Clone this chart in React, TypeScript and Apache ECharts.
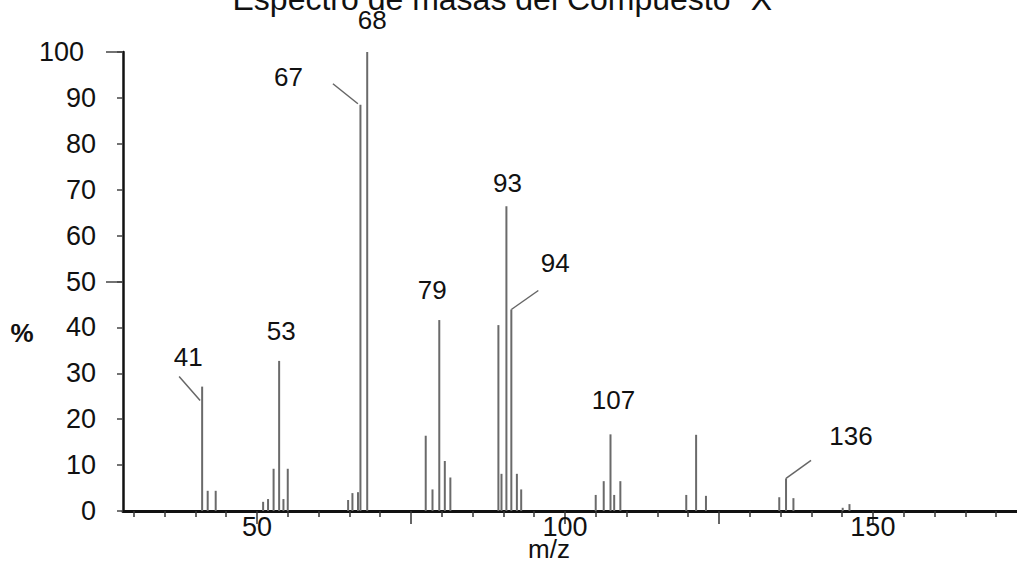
import React, { useEffect, useRef } from "react";
import * as echarts from "echarts";

// m/z positions (as read on the drawn axis) and relative intensities (%)
const peakMz = [
  41.1, 42.0, 43.3,
  51.0, 51.8, 52.7, 53.6, 54.3, 55.0,
  64.8, 65.5, 66.4, 66.8, 67.9,
  77.4, 78.5, 79.6, 80.5, 81.4,
  89.2, 89.7, 90.5, 91.3, 92.2, 92.9,
  105.0, 106.3, 107.4, 108.0, 109.0,
  119.7, 121.3, 122.9,
  134.8, 135.9, 137.1,
  145.1, 146.2,
];
const peakIntensity = [
  27.1, 4.4, 4.4,
  2.0, 2.6, 9.2, 32.7, 2.6, 9.2,
  2.4, 3.9, 4.1, 88.5, 100,
  16.4, 4.7, 41.6, 10.9, 7.3,
  40.5, 8.1, 66.4, 43.9, 8.1, 4.7,
  3.5, 6.5, 16.7, 3.5, 6.5,
  3.5, 16.6, 3.3,
  3.0, 7.1, 2.8,
  0.7, 1.5,
];

// annotated peaks
const annotText = ["41", "53", "67", "68", "79", "93", "94", "107", "136"];
const annotMz = [41.1, 53.6, 66.8, 67.9, 79.6, 90.5, 91.3, 107.4, 135.9];
const annotIntensity = [27.1, 32.7, 88.5, 100, 41.6, 66.4, 43.9, 16.7, 7.1];

const xMinorTicks = [30, 35, 40, 45, 55, 60, 65, 70, 80, 85, 90, 95, 105, 110, 115, 120, 130, 135, 140, 145, 155, 160, 165, 170];
const xMajorTicks = [50, 75, 100, 125, 150];
const xTickLabels = [50, 100, 150];
const yLongTicks = [50, 100];

const TITLE = 'Espectro de masas del Compuesto "X"';
const X_NAME = "m/z";
const Y_NAME = "%";

// styling: label offsets (px) from the peak top, leader lines (px)
const annotOffset: number[][] = [
  [-14, -30], [2, -30], [-72, -28], [5, -32], [-7, -30], [1, -23], [44, -46], [3, -34], [65, -42],
];
const annotLeader: (number[] | null)[] = [
  [-2, 14, -23, -10], null, [-2.5, -1, -27.5, -21], null, null, null, [0, 0, 27, -19], null, [0, 0, 25, -18],
];

const FONT = "'Liberation Sans', Arial, Helvetica, sans-serif";

export default function App() {
  const ref = useRef<HTMLDivElement>(null);
  useEffect(() => {
    if (!ref.current) return;
    const chart = echarts.init(ref.current, undefined, { renderer: "svg" });
    const xMin = 28.25;
    const xMax = 173.4;
    chart.setOption({
      animation: false,
      backgroundColor: "#ffffff",
      textStyle: { fontFamily: FONT },
      grid: { left: 123, right: 0, top: 52, bottom: 72, containLabel: false },
      graphic: [
        {
          type: "text",
          style: {
            text: TITLE,
            x: 508,
            y: -1,
            align: "center",
            verticalAlign: "middle",
            fontSize: 32,
            fontFamily: FONT,
            fill: "#111",
          },
        },
        {
          type: "text",
          style: { text: Y_NAME, x: 22, y: 333, align: "center", verticalAlign: "middle", fontSize: 26, fontFamily: FONT, fill: "#111", fontWeight: "bold" },
        },
        {
          type: "text",
          style: { text: X_NAME, x: 549, y: 549, align: "center", verticalAlign: "middle", fontSize: 26, fontFamily: FONT, fill: "#111" },
        },
      ],
      xAxis: [
        {
          type: "value",
          min: xMin,
          max: xMax,
          position: "bottom",
          axisLine: { show: true, onZero: false, lineStyle: { color: "#111", width: 3 } },
          axisTick: { show: true, customValues: xMinorTicks, length: 6, lineStyle: { color: "#333", width: 1.5 } },
          axisLabel: { show: true, customValues: xTickLabels, fontSize: 27, margin: 2, color: "#111", fontFamily: FONT },
          splitLine: { show: false },
        },
        {
          type: "value",
          min: xMin,
          max: xMax,
          position: "bottom",
          axisLine: { show: false, onZero: false },
          axisTick: { show: true, customValues: xMajorTicks, length: 13, lineStyle: { color: "#333", width: 1.5 } },
          axisLabel: { show: false },
          splitLine: { show: false },
        },
      ],
      yAxis: [
        {
          type: "value",
          min: 0,
          max: 100,
          interval: 10,
          position: "left",
          axisLine: { show: true, onZero: false, lineStyle: { color: "#111", width: 2.5 } },
          axisTick: { show: true, length: 6, lineStyle: { color: "#444", width: 1.5 } },
          axisLabel: {
            fontSize: 27,
            margin: 27,
            color: "#111",
            fontFamily: FONT,
            formatter: (v: number) => (v === 100 ? "{a|100}" : String(v)),
            rich: { a: { fontSize: 27, fontFamily: FONT, color: "#111", padding: [0, 12, 0, 0] } },
          },
          splitLine: { show: false },
        },
        {
          type: "value",
          min: 0,
          max: 100,
          position: "left",
          axisLine: { show: false, onZero: false },
          axisTick: { show: true, customValues: yLongTicks, length: 17, lineStyle: { color: "#444", width: 1.5 } },
          axisLabel: { show: false },
          splitLine: { show: false },
        },
      ],
      series: [
        {
          type: "bar",
          xAxisIndex: 0,
          yAxisIndex: 0,
          barWidth: 2,
          itemStyle: { color: "#6a6a6a" },
          data: peakMz.map((x, i) => [x, peakIntensity[i]]),
          z: 2,
        },
        {
          type: "custom",
          xAxisIndex: 0,
          yAxisIndex: 0,
          clip: false,
          z: 5,
          data: annotMz.map((x, i) => [x, annotIntensity[i]]),
          renderItem: (params: any, api: any) => {
            const i = params.dataIndex;
            const p = api.coord([api.value(0), api.value(1)]);
            const off = annotOffset[i];
            const children: any[] = [
              {
                type: "text",
                style: {
                  text: annotText[i],
                  x: p[0] + off[0],
                  y: p[1] + off[1],
                  align: "center",
                  verticalAlign: "middle",
                  fontSize: 26,
                  fontFamily: FONT,
                  fill: "#111",
                },
              },
            ];
            const l = annotLeader[i];
            if (l) {
              children.push({
                type: "line",
                shape: { x1: p[0] + l[0], y1: p[1] + l[1], x2: p[0] + l[2], y2: p[1] + l[3] },
                style: { stroke: "#666", lineWidth: 1.5 },
              });
            }
            return { type: "group", children };
          },
        },
      ],
    });
    return () => chart.dispose();
  }, []);
  return (
    <div
      ref={ref}
      style={{ position: "fixed", left: 0, top: 0, width: 1017, height: 583, background: "#fff" }}
    />
  );
}
